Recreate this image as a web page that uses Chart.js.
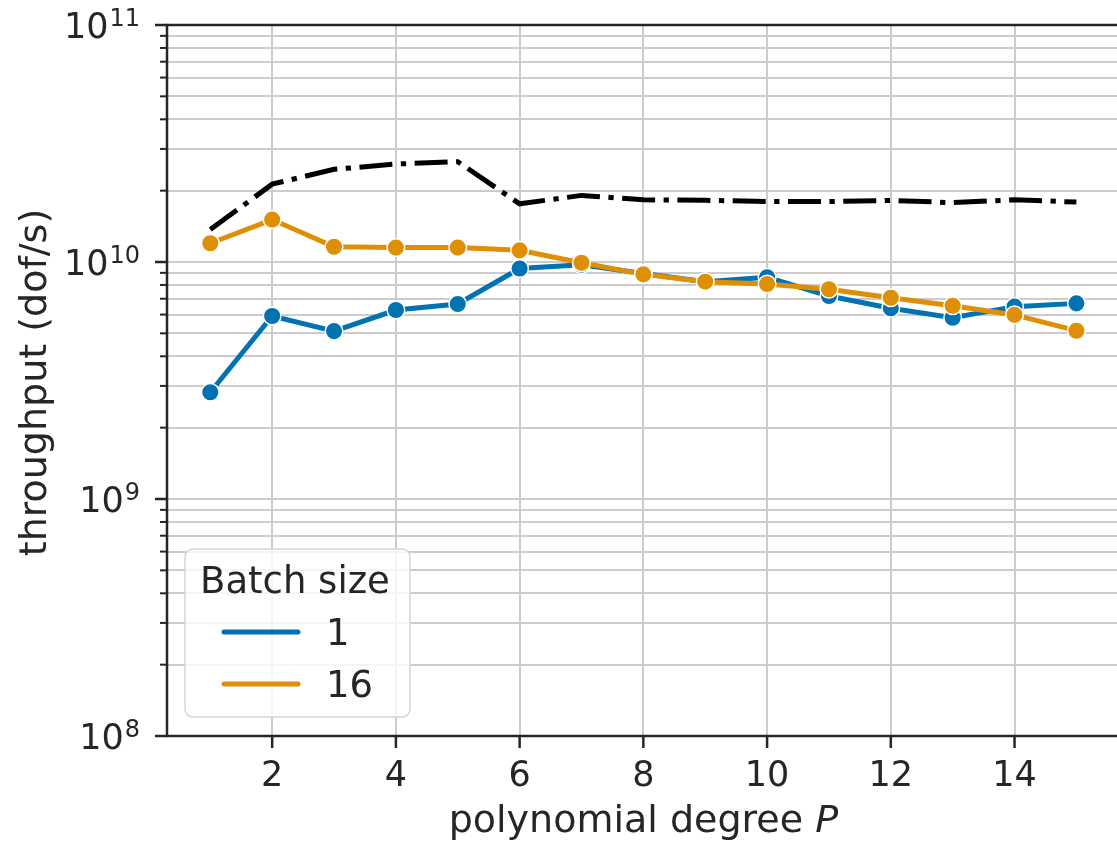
<!DOCTYPE html>
<html>
<head>
<meta charset="utf-8">
<title>throughput vs polynomial degree</title>
<script src="https://cdn.jsdelivr.net/npm/chart.js@4.4.1/dist/chart.umd.min.js"></script>
<style>
  html, body { margin: 0; padding: 0; background: #fff; overflow: hidden; }
  canvas { display: block; }
</style>
</head>
<body>
<canvas id="chart" width="1130" height="842"></canvas>
<script>
// polynomial degree P
const degrees = [1, 2, 3, 4, 5, 6, 7, 8, 9, 10, 11, 12, 13, 14, 15];

// throughput in dof/s, batch size 1
const batch1 = [2.82e9, 5.92e9, 5.11e9, 6.27e9, 6.65e9, 9.39e9, 9.74e9, 8.94e9,
                8.26e9, 8.62e9, 7.19e9, 6.38e9, 5.82e9, 6.48e9, 6.69e9];

// throughput in dof/s, batch size 16
const batch16 = [1.20e10, 1.51e10, 1.16e10, 1.15e10, 1.15e10, 1.12e10, 9.93e9, 8.87e9,
                 8.26e9, 8.08e9, 7.67e9, 7.07e9, 6.54e9, 5.98e9, 5.13e9];

// reference throughput (dash-dot, no legend entry)
const reference = [1.37e10, 2.13e10, 2.46e10, 2.59e10, 2.65e10, 1.76e10, 1.91e10, 1.83e10,
                   1.82e10, 1.80e10, 1.80e10, 1.82e10, 1.78e10, 1.83e10, 1.79e10];

const xTicks = [2, 4, 6, 8, 10, 12, 14];
const yDecades = [8, 9, 10, 11];

const TEXT = '#262626';
const FONT = '"DejaVu Sans", sans-serif';
const BLUE = '#0173b2';
const ORANGE = '#de8f05';

function pts(ys) {
  return degrees.map((x, i) => ({ x: x, y: ys[i] }));
}

// major + minor positions for the log axis
function logTicks() {
  const out = [];
  for (let e = yDecades[0]; e < yDecades[yDecades.length - 1]; e++) {
    for (let m = 1; m <= 9; m++) out.push({ value: m * Math.pow(10, e) });
  }
  out.push({ value: Math.pow(10, yDecades[yDecades.length - 1]) });
  return out;
}

// spines, tick marks, tick labels, axis titles and the legend
const decorations = {
  id: 'decorations',
  afterDraw(chart) {
    const ctx = chart.ctx;
    const area = chart.chartArea;
    const xs = chart.scales.x;
    const ys = chart.scales.y;
    ctx.save();
    ctx.strokeStyle = TEXT;
    ctx.fillStyle = TEXT;
    ctx.lineCap = 'butt';

    // y ticks
    ys.ticks.forEach(t => {
      const py = ys.getPixelForValue(t.value);
      const major = Math.abs(Math.log10(t.value) - Math.round(Math.log10(t.value))) < 1e-9;
      ctx.lineWidth = major ? 2.5 : 2;
      ctx.beginPath();
      ctx.moveTo(area.left - (major ? 12 : 7), py);
      ctx.lineTo(area.left, py);
      ctx.stroke();
    });

    // y labels as 10^n
    yDecades.forEach(e => {
      const py = ys.getPixelForValue(Math.pow(10, e));
      const right = area.left - 27;
      ctx.font = '24px ' + FONT;
      ctx.textAlign = 'left';
      ctx.textBaseline = 'alphabetic';
      const sup = String(e);
      const sw = ctx.measureText(sup).width;
      ctx.fillText(sup, right - sw, py + 1);
      ctx.font = '35px ' + FONT;
      ctx.textAlign = 'right';
      ctx.fillText('10', right - sw - 1, py + 13);
    });

    // x ticks and labels
    xTicks.forEach(v => {
      const px = xs.getPixelForValue(v);
      ctx.lineWidth = 2.5;
      ctx.beginPath();
      ctx.moveTo(px, area.bottom);
      ctx.lineTo(px, area.bottom + 12);
      ctx.stroke();
      ctx.font = '35px ' + FONT;
      ctx.textAlign = 'center';
      ctx.textBaseline = 'alphabetic';
      ctx.fillText(String(v), px, area.bottom + 50);
    });

    // spines: left, top, bottom
    ctx.lineWidth = 2.5;
    ctx.beginPath();
    ctx.moveTo(area.left, area.top);
    ctx.lineTo(area.left, area.bottom);
    ctx.moveTo(area.left - 1.25, area.top);
    ctx.lineTo(area.right, area.top);
    ctx.moveTo(area.left - 1.25, area.bottom);
    ctx.lineTo(area.right, area.bottom);
    ctx.stroke();

    // x title with italic P
    const cx = (area.left + area.right) / 2;
    ctx.font = '38px ' + FONT;
    const base = 'polynomial degree ';
    const bw = ctx.measureText(base).width;
    ctx.font = 'italic 38px ' + FONT;
    const pw = ctx.measureText('P').width;
    const x0 = cx - (bw + pw) / 2;
    ctx.textAlign = 'left';
    ctx.font = '38px ' + FONT;
    ctx.fillText(base, x0, area.bottom + 96);
    ctx.font = 'italic 38px ' + FONT;
    ctx.fillText('P', x0 + bw, area.bottom + 96);

    // y title
    ctx.save();
    ctx.translate(46, (area.top + area.bottom) / 2 + 2);
    ctx.rotate(-Math.PI / 2);
    ctx.font = '38px ' + FONT;
    ctx.textAlign = 'center';
    ctx.fillText('throughput (dof/s)', 0, 0);
    ctx.restore();

    // legend
    const lx = area.left + 18, ly = area.bottom - 187, lw = 225, lh = 168;
    ctx.beginPath();
    ctx.roundRect(lx, ly, lw, lh, 8);
    ctx.fillStyle = 'rgba(255,255,255,0.8)';
    ctx.fill();
    ctx.strokeStyle = '#d5d5d5';
    ctx.lineWidth = 1.5;
    ctx.stroke();
    ctx.fillStyle = TEXT;
    ctx.font = '37px ' + FONT;
    ctx.textAlign = 'left';
    ctx.fillText('Batch size', lx + 15, ly + 44);
    const entries = chart.data.datasets.filter(d => d.label);
    entries.forEach((d, i) => {
      const ey = ly + 83 + i * 52;
      ctx.strokeStyle = d.borderColor;
      ctx.lineWidth = 5;
      ctx.lineCap = 'round';
      ctx.beginPath();
      ctx.moveTo(lx + 39, ey);
      ctx.lineTo(lx + 113, ey);
      ctx.stroke();
      ctx.fillStyle = TEXT;
      ctx.fillText(d.label, lx + 141, ey + 13);
    });
    ctx.restore();
  }
};

const chart = new Chart(document.getElementById('chart'), {
  type: 'line',
  data: {
    datasets: [
      {
        label: '1',
        data: pts(batch1),
        borderColor: BLUE,
        backgroundColor: BLUE,
        borderWidth: 5,
        pointRadius: 8.8,
        pointBorderWidth: 1.5,
        pointBackgroundColor: BLUE,
        pointBorderColor: '#ffffff',
        order: 2
      },
      {
        label: '16',
        data: pts(batch16),
        borderColor: ORANGE,
        backgroundColor: ORANGE,
        borderWidth: 5,
        pointRadius: 8.8,
        pointBorderWidth: 1.5,
        pointBackgroundColor: ORANGE,
        pointBorderColor: '#ffffff',
        order: 1
      },
      {
        label: '',
        data: pts(reference),
        borderColor: '#000000',
        borderWidth: 5,
        borderDash: [33, 8.5, 5.3, 8.5],
        borderCapStyle: 'butt',
        pointRadius: 0,
        order: 0
      }
    ]
  },
  options: {
    responsive: false,
    devicePixelRatio: 1,
    animation: false,
    layout: { padding: { top: 25, right: 3, left: 0, bottom: 0 } },
    plugins: { legend: { display: false }, tooltip: { enabled: false } },
    elements: { line: { tension: 0 } },
    scales: {
      x: {
        type: 'linear',
        min: 0.3,
        max: 15.7,
        afterBuildTicks: s => { s.ticks = xTicks.map(v => ({ value: v })); },
        afterFit: s => { s.height = 106; },
        ticks: { display: false },
        grid: { color: '#cccccc', lineWidth: 2, drawTicks: false },
        border: { display: false }
      },
      y: {
        type: 'logarithmic',
        min: 1e8,
        max: 1e11,
        afterBuildTicks: s => { s.ticks = logTicks(); },
        afterFit: s => { s.width = 167; },
        ticks: { display: false },
        grid: { color: '#cccccc', lineWidth: 2, drawTicks: false },
        border: { display: false }
      }
    }
  },
  plugins: [decorations]
});
</script>
</body>
</html>
